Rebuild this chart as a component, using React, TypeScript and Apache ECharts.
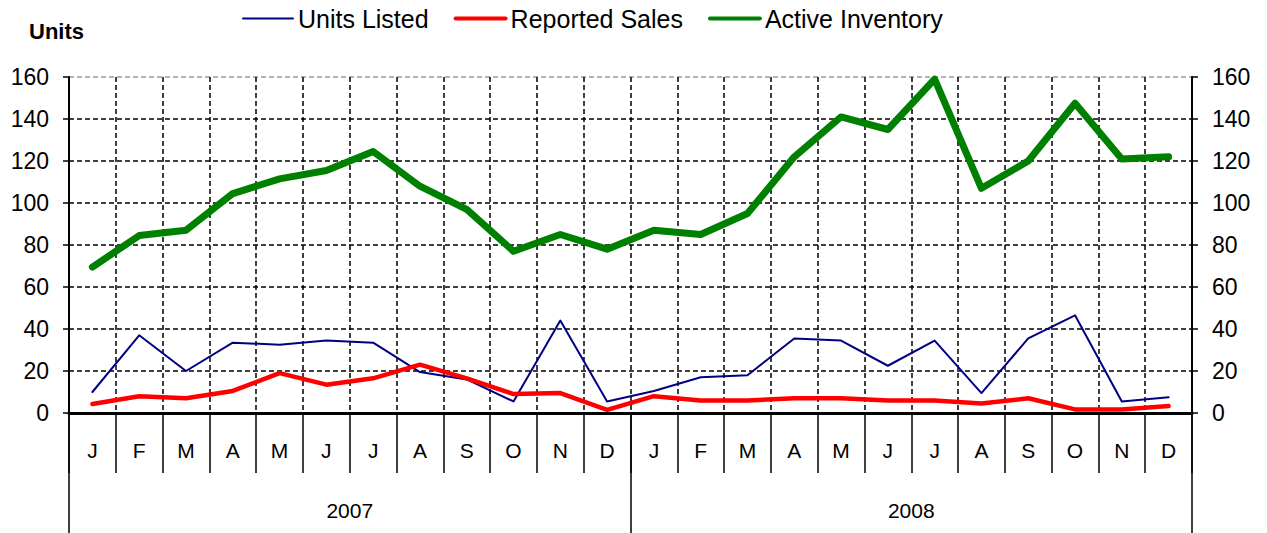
import React, { useEffect, useRef } from "react";
import * as echarts from "echarts";

const months = ["J", "F", "M", "A", "M", "J", "J", "A", "S", "O", "N", "D"];
const years = ["2007", "2008"];
const yTicks = { min: 0, max: 160, interval: 20 };

const unitsListed = [
  10, 37, 20, 33.5, 32.5, 34.5, 33.5, 19.5, 16, 5.5, 44, 5.5,
  10.5, 17, 18, 35.5, 34.5, 22.5, 34.5, 9.5, 35.5, 46.5, 5.5, 7.5,
];
const reportedSales = [
  4.3, 8, 7, 10.5, 19, 13.5, 16.5, 23, 16.5, 9, 9.5, 1.5,
  8, 6, 6, 7, 7, 6, 6, 4.5, 7, 1.7, 1.7, 3.3,
];
const activeInventory = [
  69.5, 84.5, 87, 104.5, 111.5, 115.5, 124.5, 108, 97, 77, 85, 78,
  87, 85, 95, 122, 141, 135, 159, 107, 120, 147.5, 121, 122,
];

const FONT = "'Liberation Sans', Arial, sans-serif";

export default function App() {
  const ref = useRef<HTMLDivElement>(null);
  useEffect(() => {
    if (!ref.current) return;
    const chart = echarts.init(ref.current, undefined, { renderer: "svg" });
    const categories: string[] = [];
    years.forEach((y) => months.forEach((m, i) => categories.push(`${m}|${y}|${i}`)));

    const splitColors: string[] = [];
    for (let v = yTicks.min; v <= yTicks.max; v += yTicks.interval) {
      splitColors.push(v === yTicks.max ? "#9a9a9a" : "#000");
    }

    const yAxisBase = {
      type: "value",
      min: yTicks.min,
      max: yTicks.max,
      interval: yTicks.interval,
      axisLine: { show: true, lineStyle: { color: "#000", width: 2 } },
      axisTick: { show: true, length: 6, lineStyle: { color: "#000", width: 1.5 } },
      axisLabel: { color: "#000", fontSize: 23, fontFamily: FONT, margin: 20 },
    };

    chart.setOption({
      animation: false,
      backgroundColor: "#fff",
      textStyle: { fontFamily: FONT },
      grid: { left: 69, right: 75, top: 77, bottom: 120, containLabel: false },
      graphic: [
        {
          type: "text",
          left: 29,
          top: 20,
          style: { text: "Units", font: `bold 22px ${FONT}`, fill: "#000" },
        },
      ],
      legend: {
        left: 237,
        top: 1,
        itemWidth: 50,
        itemHeight: 6,
        itemGap: 25,
        itemStyle: { opacity: 0 },
        textStyle: { color: "#000", fontSize: 25, fontFamily: FONT },
        data: [
          { name: "Units Listed", lineStyle: { width: 2 } },
          { name: "Reported Sales", lineStyle: { width: 4 } },
          { name: "Active Inventory", lineStyle: { width: 4 } },
        ],
      },
      xAxis: [
        {
          type: "category",
          data: categories,
          boundaryGap: true,
          position: "bottom",
          axisLine: { show: true, onZero: false, lineStyle: { color: "#000", width: 3 } },
          axisTick: { show: true, interval: 0, length: 60, lineStyle: { color: "#000", width: 1.5 } },
          axisLabel: {
            interval: 0,
            margin: 27,
            color: "#000",
            fontSize: 21,
            fontFamily: FONT,
            formatter: (v: string) => v.split("|")[0],
          },
          splitLine: {
            show: true,
            interval: 0,
            lineStyle: { color: "#000", type: [5, 3], width: 1.5 },
          },
        },
        {
          type: "category",
          data: years,
          boundaryGap: true,
          position: "bottom",
          axisLine: { show: false },
          axisTick: { show: true, interval: 0, length: 120, lineStyle: { color: "#000", width: 1.5 } },
          axisLabel: { interval: 0, margin: 87, color: "#000", fontSize: 21, fontFamily: FONT },
          splitLine: { show: false },
        },
      ],
      yAxis: [
        {
          ...yAxisBase,
          position: "left",
          splitLine: {
            show: true,
            lineStyle: { color: splitColors, type: [5, 3], width: 1.5 },
          },
        },
        {
          ...yAxisBase,
          position: "right",
          splitLine: { show: false },
        },
      ],
      series: [
        {
          name: "Units Listed",
          type: "line",
          data: unitsListed,
          symbol: "none",
          showSymbol: false,
          color: "#000080",
          lineStyle: { color: "#000080", width: 2, join: "round", cap: "round" },
          z: 3,
        },
        {
          name: "Reported Sales",
          type: "line",
          data: reportedSales,
          symbol: "none",
          showSymbol: false,
          color: "#ff0000",
          lineStyle: { color: "#ff0000", width: 4.5, join: "round", cap: "round" },
          z: 4,
        },
        {
          name: "Active Inventory",
          type: "line",
          data: activeInventory,
          symbol: "none",
          showSymbol: false,
          color: "#008000",
          lineStyle: { color: "#008000", width: 7, join: "round", cap: "round" },
          z: 5,
        },
      ],
    });
    return () => chart.dispose();
  }, []);
  return (
    <div
      ref={ref}
      style={{ position: "fixed", left: 0, top: 0, width: 1267, height: 533, background: "#fff" }}
    />
  );
}
